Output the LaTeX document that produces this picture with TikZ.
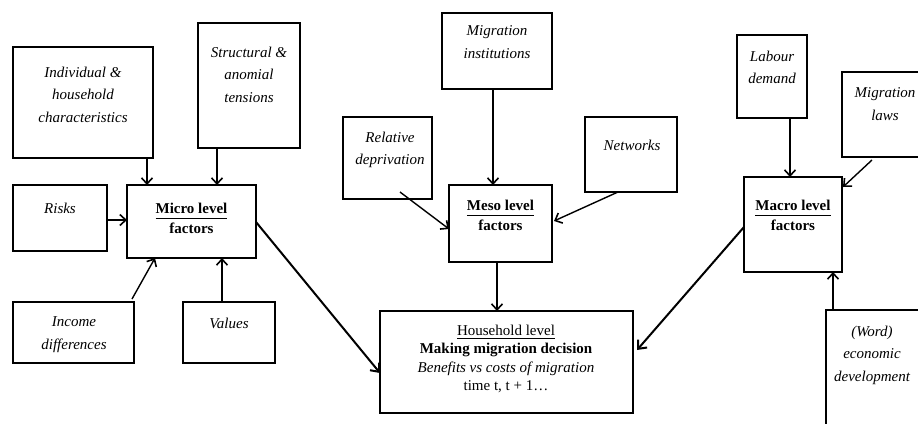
\documentclass[tikz,border=0pt]{standalone}
\usepackage{fontspec}
\setmainfont{Liberation Serif}
\usetikzlibrary{arrows.meta,calc}
\newcommand\ulbox[3]{\vtop{\hbox{#1}\kern#2\hrule height #3}}
\begin{document}
\begin{tikzpicture}[x=1pt,y=-1pt,
  box/.style={draw, line width=2.6pt, inner sep=0pt, outer sep=0pt},
  txt/.style={inner sep=0pt, align=center, anchor=north, font=\fontsize{15}{22.5}\selectfont\itshape},
  lvl/.style={inner sep=0pt, align=center, anchor=north, font=\fontsize{15}{20}\selectfont\bfseries},
  hhtxt/.style={inner sep=0pt, align=center, anchor=north, font=\fontsize{15}{18.6}\selectfont},
  arr/.style={line width=1.4pt, -{Straight Barb[length=6pt,width=11pt,line width=1.6pt]}},
  arrb/.style={line width=2pt, -{Straight Barb[length=7pt,width=12pt,line width=2pt]}}]
\clip (0,0) rectangle (918,423);
\fill[white] (0,0) rectangle (918,423);
% boxes: corners
\newcommand\bx[5]{\node[box, minimum width=#4-#2, minimum height=#5-#3] (#1) at ({(#2+#4)/2},{(#3+#5)/2}) {};}
\bx{ind}{13}{47}{153}{158}
\bx{str}{198}{23}{300}{148}
\bx{risk}{13}{185}{107}{251}
\bx{micro}{127}{185}{256}{258}
\bx{inc}{13}{302}{134}{363}
\bx{val}{183}{302}{275}{363}
\bx{inst}{442}{13}{552}{89}
\bx{rel}{343}{117}{432}{199}
\bx{net}{585}{117}{677}{192}
\bx{meso}{449}{185}{552}{262}
\bx{hh}{380}{311}{633}{413}
\bx{lab}{737}{35}{807}{118}
\bx{laws}{842}{72}{950}{157}
\bx{macro}{744}{177}{842}{272}
\bx{eco}{826}{310}{950}{450}
% texts
\node[txt] (tind) at (83,66.5) {Individual \&\\household\\characteristics};
\node[txt] (tstr) at (249,46.5) {Structural \&\\anomial\\tensions};
\node[txt] (trisk) at (60,202.5) {Risks};
\node[txt] (tinc) at (74,316.5) {Income\\differences};
\node[txt] (tval) at (229,317.5) {Values};
\node[txt] (tinst) at (497,25.5) {Migration\\institutions};
\node[txt] (trel) at (390,131.5) {Relative\\deprivation};
\node[txt] (tnet) at (632,139.5) {Networks};
\node[txt] (tlab) at (772,50.5) {Labour\\demand};
\node[txt] (tlaws) at (885,87.5) {Migration\\laws};
\node[txt] (teco) at (872,325.5) {(Word)\\economic\\development};
\node[lvl] (tmicro) at (191.5,202.5) {\ulbox{Micro level}{4.5pt}{1.4pt}\\factors};
\node[lvl] (tmeso) at (500.5,199.5) {\ulbox{Meso level}{4.5pt}{1.4pt}\\factors};
\node[lvl] (tmacro) at (793,199.5) {\ulbox{Macro level}{4.5pt}{1.4pt}\\factors};
\node[hhtxt] (thh) at (506,324.5) {\ulbox{Household level}{2.5pt}{0.9pt}\\\textbf{Making migration decision}\\\textit{Benefits vs costs of migration}\\time t, t + 1…};
% connectors
\draw[arr] (ind.south -| 147,0) -- (147,0 |- micro.north);
\draw[arr] (str.south -| 217,0) -- (217,0 |- micro.north);
\draw[arr] (risk.east |- 0,220) -- (micro.west |- 0,220);
\draw[arr] ([xshift=-2pt,yshift=3pt]inc.north east) -- (155,0 |- micro.south);
\draw[arr] (val.north -| 222,0) -- (222,0 |- micro.south);
\draw[arrb] (micro.east |- 0,222) -- (hh.west |- 0,373);
\draw[arr] (inst.south -| 493,0) -- (493,0 |- meso.north);
\draw[arr] ([yshift=7pt]rel.south -| 400,0) -- (meso.west |- 0,229);
\draw[arr] (net.south -| 618,0) -- ([xshift=2pt]meso.east |- 0,221);
\draw[arr] (meso.south -| 497,0) -- (497,0 |- hh.north);
\draw[arr] (lab.south -| 790,0) -- (790,0 |- macro.north);
\draw[arr] ([yshift=-3pt]laws.south -| 872,0) -- ([xshift=1pt]macro.east |- 0,187);
\draw[arrb] (macro.west |- 0,227) -- ([xshift=4pt]hh.east |- 0,350);
\draw[arr] (eco.north -| 833,0) -- (833,0 |- macro.south);
\end{tikzpicture}
\end{document}
